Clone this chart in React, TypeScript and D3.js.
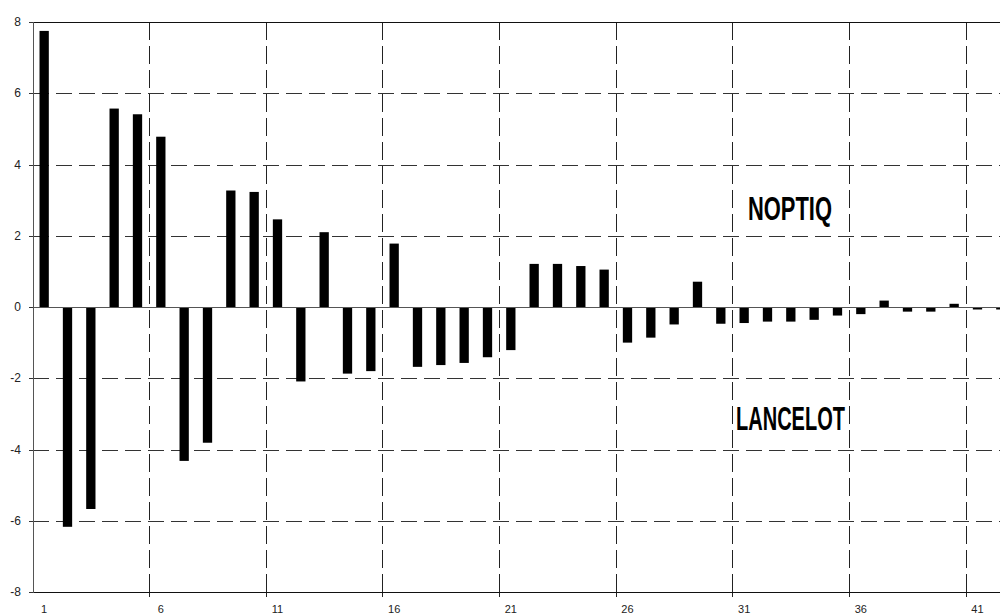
import React from "react";
import * as d3 from "d3";

const categories: number[] = [1,2,3,4,5,6,7,8,9,10,11,12,13,14,15,16,17,18,19,20,21,22,23,24,25,26,27,28,29,30,31,32,33,34,35,36,37,38,39,40,41,42];
const values: number[] = [7.75,-6.17,-5.67,5.57,5.41,4.78,-4.32,-3.81,3.27,3.23,2.46,-2.09,2.10,-1.87,-1.80,1.78,-1.68,-1.63,-1.57,-1.41,-1.21,1.21,1.21,1.15,1.05,-1.0,-0.86,-0.49,0.71,-0.47,-0.45,-0.41,-0.41,-0.36,-0.24,-0.2,0.18,-0.13,-0.13,0.09,-0.07,-0.07];
const yTicks: number[] = [-8,-6,-4,-2,0,2,4,6,8];
const xLabels: number[] = [1,6,11,16,21,26,31,36,41];
const xGridAfter: number[] = [5,10,15,20,25,30,35,40];
const labelTop = "NOPTIQ";
const labelBottom = "LANCELOT";

export default function App() {
  const W = 1000, H = 616;
  const left = 32.5, step = 23.333;
  const xb = d3.scaleBand<number>().domain(categories).range([left, left + categories.length * step]);
  const barW = 9.3;
  const y = d3.scaleLinear().domain([-8, 8]).range([592, 22]);
  const font = "'Liberation Sans', Arial, sans-serif";
  return (
    <svg width={W} height={H} style={{ position: "fixed", left: 0, top: 0, background: "#fff" }} fontFamily={font}>
      <rect x={0} y={0} width={W} height={H} fill="#fff" />
      {yTicks.filter(t => t !== 0 && Math.abs(t) !== 8).map(t => (
        <line key={"h" + t} x1={33} x2={W} y1={Math.round(y(t)) + 0.5} y2={Math.round(y(t)) + 0.5} stroke="#333" strokeDasharray="16,7" />
      ))}
      {xGridAfter.map(c => {
        const gx = Math.round((xb(c) as number) + xb.bandwidth()) + 0.5;
        return <line key={"v" + c} x1={gx} x2={gx} y1={22} y2={596} stroke="#222" strokeDasharray="18,6" />;
      })}
      {xGridAfter.map(c => {
        const gx = Math.round((xb(c) as number) + xb.bandwidth()) + 0.5;
        return <line key={"bt" + c} x1={gx} x2={gx} y1={592} y2={597} stroke="#222" />;
      })}
      {values.map((v, i) => {
        const c = categories[i];
        const y0 = y(0), yv = y(v);
        const cx = (xb(c) as number) + xb.bandwidth() / 2;
        return <rect key={"b" + c} x={cx - barW / 2} width={barW} y={Math.min(y0, yv)} height={Math.abs(yv - y0)} fill="#000" />;
      })}
      <line x1={33} x2={W} y1={Math.round(y(0)) + 0.5} y2={Math.round(y(0)) + 0.5} stroke="#555" />
      <line x1={33} x2={W} y1={22.5} y2={22.5} stroke="#111" />
      <line x1={33} x2={W} y1={592.5} y2={592.5} stroke="#111" />
      <line x1={33.5} x2={33.5} y1={22} y2={593} stroke="#555" />
      {yTicks.map(t => (
        <g key={"yt" + t}>
          <line x1={29} x2={33} y1={Math.round(y(t)) + 0.5} y2={Math.round(y(t)) + 0.5} stroke="#333" />
          <text x={21} y={y(t)} dy="0.35em" textAnchor="end" fontSize={12} fill="#222">{t}</text>
        </g>
      ))}
      {xLabels.map(c => (
        <text key={"xl" + c} x={(xb(c) as number) + xb.bandwidth() / 2} y={613} textAnchor="middle" fontSize={11} fill="#222">{c}</text>
      ))}
      <text x={748} y={220} fontSize={33} fontWeight="bold" textLength={84} lengthAdjust="spacingAndGlyphs" fill="#000">{labelTop}</text>
      <text x={736} y={430} fontSize={33} fontWeight="bold" textLength={109} lengthAdjust="spacingAndGlyphs" fill="#000">{labelBottom}</text>
    </svg>
  );
}
